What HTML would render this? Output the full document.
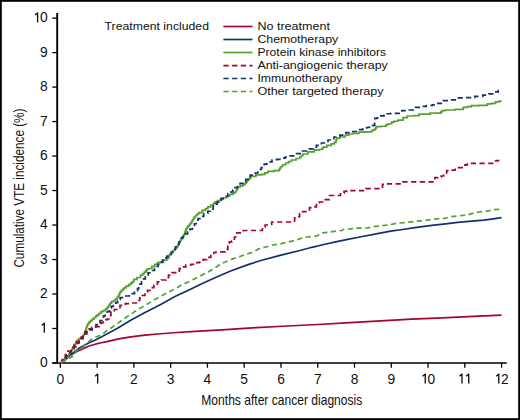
<!DOCTYPE html>
<html><head><meta charset="utf-8"><style>
html,body{margin:0;padding:0;background:#fff;}
.wrap{position:relative;width:520px;height:420px;overflow:hidden;background:#fff;}
svg{position:absolute;left:0;top:0;}
text{font-family:"Liberation Sans",sans-serif;fill:#111;}
.tk{font-size:13.8px;}
.lg{font-size:11.4px;}
.at{font-size:14.8px;}
</style></head><body><div class="wrap">
<svg width="520" height="420" viewBox="0 0 520 420">
<rect x="0.9" y="0.9" width="518.2" height="418.2" fill="#fff" stroke="#000" stroke-width="1.8"/>
<line x1="57.2" y1="13.1" x2="57.2" y2="363.8" stroke="#000" stroke-width="1.9"/>
<line x1="52.3" y1="363" x2="506.7" y2="363" stroke="#000" stroke-width="1.7"/>
<line x1="52.3" y1="363.00" x2="57.2" y2="363.00" stroke="#000" stroke-width="1.3"/>
<text x="43.75" y="367.30" text-anchor="middle" class="tk">0</text>
<line x1="52.3" y1="328.51" x2="57.2" y2="328.51" stroke="#000" stroke-width="1.3"/>
<path d="M41.70,325.51 L44.30,323.31 V332.81" fill="none" stroke="#111" stroke-width="1.35" stroke-linejoin="round"/>
<line x1="52.3" y1="294.02" x2="57.2" y2="294.02" stroke="#000" stroke-width="1.3"/>
<text x="43.75" y="298.32" text-anchor="middle" class="tk">2</text>
<line x1="52.3" y1="259.53" x2="57.2" y2="259.53" stroke="#000" stroke-width="1.3"/>
<text x="43.75" y="263.83" text-anchor="middle" class="tk">3</text>
<line x1="52.3" y1="225.04" x2="57.2" y2="225.04" stroke="#000" stroke-width="1.3"/>
<text x="43.75" y="229.34" text-anchor="middle" class="tk">4</text>
<line x1="52.3" y1="190.55" x2="57.2" y2="190.55" stroke="#000" stroke-width="1.3"/>
<text x="43.75" y="194.85" text-anchor="middle" class="tk">5</text>
<line x1="52.3" y1="156.06" x2="57.2" y2="156.06" stroke="#000" stroke-width="1.3"/>
<text x="43.75" y="160.36" text-anchor="middle" class="tk">6</text>
<line x1="52.3" y1="121.57" x2="57.2" y2="121.57" stroke="#000" stroke-width="1.3"/>
<text x="43.75" y="125.87" text-anchor="middle" class="tk">7</text>
<line x1="52.3" y1="87.08" x2="57.2" y2="87.08" stroke="#000" stroke-width="1.3"/>
<text x="43.75" y="91.38" text-anchor="middle" class="tk">8</text>
<line x1="52.3" y1="52.59" x2="57.2" y2="52.59" stroke="#000" stroke-width="1.3"/>
<text x="43.75" y="56.89" text-anchor="middle" class="tk">9</text>
<line x1="52.3" y1="18.10" x2="57.2" y2="18.10" stroke="#000" stroke-width="1.3"/>
<path d="M35.00,15.10 L37.60,12.90 V22.40" fill="none" stroke="#111" stroke-width="1.35" stroke-linejoin="round"/>
<text x="43.75" y="22.40" text-anchor="middle" class="tk">0</text>
<line x1="60.35" y1="363" x2="60.35" y2="367.7" stroke="#000" stroke-width="1.3"/>
<text x="60.35" y="383.60" text-anchor="middle" class="tk">0</text>
<line x1="97.12" y1="363" x2="97.12" y2="367.7" stroke="#000" stroke-width="1.3"/>
<path d="M95.07,376.30 L97.67,374.10 V383.60" fill="none" stroke="#111" stroke-width="1.35" stroke-linejoin="round"/>
<line x1="133.89" y1="363" x2="133.89" y2="367.7" stroke="#000" stroke-width="1.3"/>
<text x="133.89" y="383.60" text-anchor="middle" class="tk">2</text>
<line x1="170.66" y1="363" x2="170.66" y2="367.7" stroke="#000" stroke-width="1.3"/>
<text x="170.66" y="383.60" text-anchor="middle" class="tk">3</text>
<line x1="207.43" y1="363" x2="207.43" y2="367.7" stroke="#000" stroke-width="1.3"/>
<text x="207.43" y="383.60" text-anchor="middle" class="tk">4</text>
<line x1="244.20" y1="363" x2="244.20" y2="367.7" stroke="#000" stroke-width="1.3"/>
<text x="244.20" y="383.60" text-anchor="middle" class="tk">5</text>
<line x1="280.97" y1="363" x2="280.97" y2="367.7" stroke="#000" stroke-width="1.3"/>
<text x="280.97" y="383.60" text-anchor="middle" class="tk">6</text>
<line x1="317.74" y1="363" x2="317.74" y2="367.7" stroke="#000" stroke-width="1.3"/>
<text x="317.74" y="383.60" text-anchor="middle" class="tk">7</text>
<line x1="354.51" y1="363" x2="354.51" y2="367.7" stroke="#000" stroke-width="1.3"/>
<text x="354.51" y="383.60" text-anchor="middle" class="tk">8</text>
<line x1="391.28" y1="363" x2="391.28" y2="367.7" stroke="#000" stroke-width="1.3"/>
<text x="391.28" y="383.60" text-anchor="middle" class="tk">9</text>
<line x1="428.05" y1="363" x2="428.05" y2="367.7" stroke="#000" stroke-width="1.3"/>
<path d="M422.65,376.30 L425.25,374.10 V383.60" fill="none" stroke="#111" stroke-width="1.35" stroke-linejoin="round"/>
<text x="431.40" y="383.60" text-anchor="middle" class="tk">0</text>
<line x1="464.82" y1="363" x2="464.82" y2="367.7" stroke="#000" stroke-width="1.3"/>
<path d="M459.42,376.30 L462.02,374.10 V383.60" fill="none" stroke="#111" stroke-width="1.35" stroke-linejoin="round"/>
<path d="M466.12,376.30 L468.72,374.10 V383.60" fill="none" stroke="#111" stroke-width="1.35" stroke-linejoin="round"/>
<line x1="501.59" y1="363" x2="501.59" y2="367.7" stroke="#000" stroke-width="1.3"/>
<path d="M496.19,376.30 L498.79,374.10 V383.60" fill="none" stroke="#111" stroke-width="1.35" stroke-linejoin="round"/>
<text x="504.94" y="383.60" text-anchor="middle" class="tk">2</text>
<path d="M61.0,362.5 L65.0,359.0 L69.5,355.5 L74.0,353.0 L79.0,350.5 L84.0,348.2 L88.6,346.3 L95.0,344.3 L100.0,343.0 L106.9,341.7 L118.8,338.8 L130.7,336.8 L145.0,335.1 L157.7,334.0 L176.9,332.5 L195.0,331.3 L225.8,329.7 L256.5,327.6 L287.3,326.0 L318.0,324.5 L350.0,322.6 L380.8,320.9 L411.5,319.2 L442.3,317.8 L473.1,316.3 L501.5,315.1" fill="none" stroke="#a6042a" stroke-width="1.7"/>
<path d="M61.0,362.5 L66.0,358.5 L72.3,353.6 L79.0,348.3 L88.6,342.9 L95.0,340.3 L106.9,333.9 L118.8,327.4 L130.7,320.2 L145.0,312.5 L160.7,304.4 L175.0,296.6 L190.0,289.4 L200.7,284.2 L215.0,277.8 L230.0,271.3 L248.1,264.6 L260.0,260.8 L280.0,255.4 L300.0,250.5 L311.9,247.3 L323.8,244.5 L335.7,241.8 L347.6,239.4 L360.0,237.0 L378.8,233.3 L390.7,231.2 L402.6,229.5 L415.0,227.7 L433.8,225.2 L445.7,223.9 L457.6,222.4 L471.9,221.2 L483.8,220.1 L493.3,218.8 L501.5,217.7" fill="none" stroke="#15316d" stroke-width="1.7"/>
<path d="M61.0,362.5 H62.40 V360.55 H63.80 H65.20 V358.60 H66.60 H67.02 V357.20 H67.45 H67.88 V355.80 H68.30 H68.72 V354.40 H69.15 H69.58 V353.00 H70.00 H70.50 V351.33 H71.00 H71.50 V349.67 H72.00 H72.50 V348.00 H73.00 H73.48 V346.53 H73.97 H74.45 V345.07 H74.93 H75.42 V343.60 H75.90 H76.25 V342.00 H76.60 H76.95 V340.40 H77.30 H78.70 V338.60 H80.10 H81.00 V337.15 H81.90 H82.80 V335.70 H83.70 H84.03 V334.03 H84.37 H84.70 V332.37 H85.03 H85.37 V330.70 H85.70 H85.93 V329.03 H86.17 H86.40 V327.37 H86.63 H86.87 V325.70 H87.10 H87.70 V323.90 H88.30 H88.90 V322.10 H89.50 H90.42 V320.57 H91.33 H92.25 V319.03 H93.17 H94.08 V317.50 H95.00 H95.75 V316.20 H96.50 H97.25 V314.90 H98.00 H99.00 V313.30 H100.00 H101.00 V311.70 H102.00 H103.15 V310.60 H104.30 H105.45 V309.10 H106.60 H107.17 V307.55 H107.75 H108.33 V306.00 H108.90 H109.33 V304.55 H109.75 H110.17 V303.10 H110.60 H111.45 V301.70 H112.30 H113.45 V300.60 H114.60 H115.45 V299.10 H116.30 H117.15 V297.40 H118.00 H118.28 V296.15 H118.55 H118.82 V294.90 H119.10 H119.40 V293.55 H119.70 H120.00 V292.20 H120.30 H121.08 V290.67 H121.87 H122.65 V289.13 H123.43 H124.22 V287.60 H125.00 H126.20 V286.10 H127.40 H128.60 V284.60 H129.80 H130.68 V283.10 H131.55 H132.43 V281.60 H133.30 H133.90 V279.30 H134.50 H136.90 V277.50 H139.30 H140.50 V275.10 H141.70 H142.57 V273.60 H143.45 H144.32 V272.10 H145.20 H145.80 V270.60 H146.40 H147.00 V269.10 H147.60 H148.80 V268.50 H150.00 H151.80 V266.30 H153.60 H154.85 V264.45 H156.10 H157.35 V262.60 H158.60 H160.35 V261.90 H162.10 H163.55 V260.10 H165.00 H166.80 V258.40 H168.60 H168.77 V256.75 H168.95 H169.12 V255.10 H169.30 H170.00 V253.70 H170.70 H171.40 V252.30 H172.10 H173.00 V250.50 H173.90 H174.80 V248.70 H175.70 H176.25 V247.30 H176.80 H177.35 V245.90 H177.90 H178.25 V244.10 H178.60 H178.95 V242.30 H179.30 H180.00 V240.50 H180.70 H181.40 V238.70 H182.10 H182.57 V237.05 H183.05 H183.53 V235.40 H184.00 H184.30 V233.75 H184.60 H184.90 V232.10 H185.20 H185.50 V230.45 H185.80 H186.10 V228.80 H186.40 H187.00 V227.33 H187.60 H188.20 V225.85 H188.80 H189.40 V224.38 H190.00 H190.60 V222.90 H191.20 H191.65 V221.40 H192.10 H192.55 V219.90 H193.00 H193.45 V218.40 H193.90 H194.35 V216.90 H194.80 H195.58 V215.50 H196.37 H197.15 V214.10 H197.93 H198.72 V212.70 H199.50 H201.90 V210.40 H204.30 H205.48 V208.60 H206.65 H207.82 V206.80 H209.00 H210.80 V205.00 H212.60 H213.45 V203.45 H214.30 H215.15 V201.90 H216.00 H217.47 V200.70 H218.95 H220.43 V199.50 H221.90 H223.40 V197.75 H224.90 H226.40 V196.00 H227.90 H229.68 V194.50 H231.45 H233.22 V193.00 H235.00 H235.45 V191.50 H235.90 H236.35 V190.00 H236.80 H237.25 V188.50 H237.70 H238.15 V187.00 H238.60 H240.07 V185.80 H241.55 H243.03 V184.60 H244.50 H245.10 V183.12 H245.70 H246.30 V181.65 H246.90 H247.50 V180.17 H248.10 H248.70 V178.70 H249.30 H250.50 V176.30 H251.70 H255.85 V174.80 H260.00 H261.65 V174.30 H263.30 H264.80 V172.80 H266.30 H267.80 V171.30 H269.30 H274.05 V170.70 H278.80 H279.20 V169.30 H279.60 H280.00 V167.90 H280.40 H280.80 V166.50 H281.20 H282.67 V164.75 H284.15 H285.62 V163.00 H287.10 H288.60 V161.50 H290.10 H291.60 V160.00 H293.10 H296.05 V158.50 H299.00 H299.80 V157.00 H300.60 H301.40 V155.50 H302.20 H303.00 V154.00 H303.80 H307.85 V151.90 H311.90 H314.30 V150.10 H316.70 H319.05 V149.50 H321.40 H322.00 V148.30 H322.60 H323.20 V147.10 H323.80 H326.80 V145.40 H329.80 H331.27 V143.90 H332.75 H334.23 V142.40 H335.70 H335.90 V141.00 H336.10 H336.30 V139.60 H336.50 H336.70 V138.20 H336.90 H339.90 V137.00 H342.90 H345.25 V135.20 H347.60 H348.80 V134.00 H350.00 H352.50 V133.30 H355.00 H356.90 V133.30 H358.80 H359.00 V132.10 H359.20 H365.00 V131.80 H370.80 H371.65 V130.40 H372.50 H373.75 V129.60 H375.00 H375.43 V128.15 H375.85 H376.27 V126.70 H376.70 H381.25 V126.25 H385.80 H386.25 V124.60 H386.70 H388.35 V123.75 H390.00 H391.65 V122.10 H393.30 H394.15 V121.25 H395.00 H397.85 V120.10 H400.70 H403.10 V117.70 H405.50 H407.25 V116.00 H409.00 H413.80 V115.70 H418.60 H419.20 V114.20 H419.80 H424.55 V114.20 H429.30 H430.15 V113.00 H431.00 H435.70 V113.20 H440.40 H440.90 V111.95 H441.40 H441.90 V110.70 H442.40 H445.45 V110.00 H448.50 H455.20 V109.30 H461.90 H463.25 V107.30 H464.60 H467.30 V106.60 H470.00 H471.35 V105.70 H472.70 H479.40 V105.30 H486.10 H487.45 V103.90 H488.80 H491.50 V103.30 H494.20 H495.55 V101.90 H496.90 H499.25 V101.20 H501.60" fill="none" stroke="#55a030" stroke-width="1.7"/>
<path d="M61.0,362.5 H62.00 V360.50 H63.00 H64.00 V358.50 H65.00 H66.25 V355.75 H67.50 H68.75 V353.00 H70.00 H70.83 V351.00 H71.67 H72.50 V349.00 H73.33 H74.17 V347.00 H75.00 H75.83 V345.00 H76.67 H77.50 V343.00 H78.33 H79.17 V341.00 H80.00 H81.00 V338.67 H82.00 H83.00 V336.33 H84.00 H85.00 V334.00 H86.00 H86.88 V331.95 H87.75 H88.62 V329.90 H89.50 H92.25 V326.80 H95.00 H96.00 V324.70 H97.00 H98.00 V322.60 H99.00 H100.00 V320.50 H101.00 H101.83 V318.23 H102.67 H103.50 V315.97 H104.33 H105.17 V313.70 H106.00 H107.30 V311.70 H108.60 H109.45 V309.70 H110.30 H110.65 V308.00 H111.00 H111.35 V306.30 H111.70 H113.40 V305.70 H115.10 H115.70 V302.60 H116.30 H117.70 V301.10 H119.10 H119.47 V299.40 H119.85 H120.22 V297.70 H120.60 H123.50 V296.00 H126.40 H129.25 V293.70 H132.10 H134.50 V290.70 H136.90 H137.50 V288.53 H138.10 H138.70 V286.37 H139.30 H139.90 V284.20 H140.50 H141.53 V281.50 H142.55 H143.57 V278.80 H144.60 H145.30 V276.83 H146.00 H146.70 V274.87 H147.40 H148.10 V272.90 H148.80 H151.20 V270.50 H153.60 H154.47 V268.50 H155.35 H156.22 V266.50 H157.10 H158.18 V264.40 H159.25 H160.32 V262.30 H161.40 H162.48 V260.05 H163.55 H164.62 V257.80 H165.70 H166.88 V256.15 H168.05 H169.23 V254.50 H170.40 H171.38 V252.00 H172.35 H173.33 V249.50 H174.30 H175.38 V246.95 H176.45 H177.52 V244.40 H178.60 H179.07 V241.95 H179.55 H180.03 V239.50 H180.50 H181.38 V237.75 H182.25 H183.12 V236.00 H184.00 H185.20 V233.90 H186.40 H187.60 V231.80 H188.80 H190.00 V229.10 H191.20 H192.40 V226.40 H193.60 H194.47 V223.75 H195.35 H196.22 V221.10 H197.10 H198.00 V218.70 H198.90 H199.80 V216.30 H200.70 H203.70 V213.30 H206.70 H207.88 V211.25 H209.05 H210.23 V209.20 H211.40 H213.20 V206.00 H215.00 H215.75 V204.03 H216.50 H217.25 V202.07 H218.00 H218.75 V200.10 H219.50 H221.00 V198.30 H222.50 H224.00 V196.50 H225.50 H227.85 V193.60 H230.20 H231.10 V191.80 H232.00 H232.90 V190.00 H233.80 H235.00 V187.60 H236.20 H237.40 V185.20 H238.60 H240.07 V183.45 H241.55 H243.03 V181.70 H244.50 H245.70 V179.30 H246.90 H248.10 V176.90 H249.30 H250.20 V175.10 H251.10 H252.00 V173.30 H252.90 H255.15 V173.00 H257.40 H257.85 V171.25 H258.30 H258.75 V169.50 H259.20 H261.25 V167.70 H263.30 H263.60 V165.95 H263.90 H264.20 V164.20 H264.50 H266.90 V163.60 H269.30 H270.20 V161.80 H271.10 H272.00 V160.00 H272.90 H276.45 V159.40 H280.00 H281.80 V158.20 H283.60 H285.35 V157.00 H287.10 H290.10 V155.80 H293.10 H296.55 V153.70 H300.00 H302.40 V151.00 H304.80 H308.35 V148.90 H311.90 H313.40 V147.15 H314.90 H316.40 V145.40 H317.90 H321.45 V143.00 H325.00 H328.00 V140.00 H331.00 H333.95 V137.00 H336.90 H339.90 V135.20 H342.90 H345.85 V132.60 H348.80 H351.90 V131.50 H355.00 H356.90 V131.50 H358.80 H359.80 V129.60 H360.80 H362.90 V128.75 H365.00 H366.65 V127.50 H368.30 H369.35 V125.80 H370.40 H372.50 V125.40 H374.60 H374.65 V123.03 H374.70 H374.75 V120.67 H374.80 H374.85 V118.30 H374.90 H377.05 V117.90 H379.20 H380.85 V115.80 H382.50 H384.15 V115.40 H385.80 H387.05 V113.75 H388.30 H390.80 V113.30 H393.30 H396.40 V113.30 H399.50 H401.90 V110.60 H404.30 H409.05 V110.00 H413.80 H415.60 V107.40 H417.40 H420.35 V106.40 H423.30 H426.30 V105.50 H429.30 H432.25 V104.80 H435.20 H437.80 V103.30 H440.40 H443.10 V100.60 H445.80 H450.50 V99.90 H455.20 H458.55 V97.90 H461.90 H465.95 V97.60 H470.00 H474.70 V96.30 H479.40 H482.75 V95.20 H486.10 H488.80 V93.80 H491.50 H494.20 V91.80 H496.90 H498.25 V90.50 H499.60 H500.55 V90.00 H501.50" fill="none" stroke="#15316d" stroke-width="1.7" stroke-dasharray="5.2 3.5"/>
<path d="M61.0,362.5 H62.25 V359.50 H63.50 H64.12 V357.05 H64.75 H65.38 V354.60 H66.00 H67.80 V351.00 H69.60 H71.35 V347.40 H73.10 H74.20 V344.60 H75.30 H76.35 V342.10 H77.40 H78.85 V340.30 H80.30 H81.35 V337.40 H82.40 H83.15 V333.90 H83.90 H84.95 V331.70 H86.00 H86.70 V328.90 H87.40 H88.85 V328.90 H90.30 H91.70 V327.40 H93.10 H94.55 V326.70 H96.00 H97.90 V326.60 H99.80 H100.95 V322.60 H102.10 H103.30 V319.60 H104.50 H107.50 V319.00 H110.50 H110.65 V315.45 H110.80 H110.95 V311.90 H111.10 H114.35 V309.50 H117.60 H120.00 V305.40 H122.40 H125.35 V303.60 H128.30 H131.90 V303.00 H135.50 H137.25 V300.50 H139.00 H139.75 V297.90 H140.50 H141.97 V295.50 H143.45 H144.93 V293.10 H146.40 H147.60 V290.40 H148.80 H150.00 V287.70 H151.20 H153.85 V285.40 H156.50 H157.40 V281.80 H158.30 H161.30 V280.00 H164.30 H166.10 V277.60 H167.90 H168.53 V275.15 H169.15 H169.78 V272.70 H170.40 H174.25 V272.70 H178.10 H179.30 V268.60 H180.50 H182.25 V266.80 H184.00 H185.80 V265.00 H187.60 H191.20 V264.40 H194.80 H195.95 V262.60 H197.10 H199.50 V262.00 H201.90 H203.10 V259.60 H204.30 H206.65 V257.30 H209.00 H210.80 V254.30 H212.60 H213.80 V252.50 H215.00 H216.05 V251.90 H217.10 H220.40 V251.90 H223.70 H225.20 V249.50 H226.70 H227.85 V246.00 H229.00 H229.30 V241.80 H229.60 H231.70 V241.20 H233.80 H234.40 V237.00 H235.00 H235.90 V232.90 H236.80 H239.45 V232.90 H242.10 H243.30 V230.50 H244.50 H253.00 V230.50 H261.50 H262.40 V226.80 H263.30 H265.10 V225.00 H266.90 H268.70 V224.40 H270.50 H271.70 V222.00 H272.90 H283.60 V222.00 H294.30 H294.60 V217.90 H294.90 H296.95 V216.70 H299.00 H299.60 V213.70 H300.20 H301.40 V211.70 H302.60 H305.45 V211.50 H308.30 H309.50 V207.60 H310.70 H313.10 V206.80 H315.50 H316.40 V202.60 H317.30 H319.35 V202.00 H321.40 H322.60 V199.60 H323.80 H326.20 V199.60 H328.60 H329.50 V195.50 H330.40 H334.85 V195.50 H339.30 H340.50 V193.10 H341.70 H344.05 V191.30 H346.40 H346.70 V190.70 H347.00 H356.10 V190.70 H365.20 H365.80 V188.60 H366.40 H374.15 V188.60 H381.90 H382.50 V184.40 H383.10 H384.60 V183.80 H386.10 H394.00 V183.80 H401.90 H402.80 V181.90 H403.70 H418.85 V181.90 H434.00 H434.90 V177.70 H435.80 H437.90 V176.90 H440.00 H441.20 V176.00 H442.40 H443.60 V173.00 H444.80 H446.70 V170.70 H448.60 H450.95 V170.10 H453.30 H455.10 V167.70 H456.90 H460.45 V167.70 H464.00 H464.90 V164.80 H465.80 H467.30 V164.20 H468.80 H469.70 V163.30 H470.60 H481.60 V163.30 H492.60 H493.50 V161.00 H494.40 H496.50 V160.60 H498.60 H500.05 V160.60 H501.50" fill="none" stroke="#a6042a" stroke-width="1.7" stroke-dasharray="5.2 3.5"/>
<path d="M61.0,362.5 L66.6,359.5 L68.7,358.6 L73.7,355.7 L76.6,350.7 L79.4,348.9 L83.0,347.1 L86.6,343.6 L90.0,340.5 L95.0,337.5 L102.1,334.5 L106.9,330.4 L112.9,326.8 L118.8,322.6 L123.6,319.0 L130.7,314.3 L137.9,309.5 L145.0,305.5 L154.8,299.6 L163.1,294.9 L172.6,290.1 L181.7,285.0 L188.8,281.7 L194.8,278.7 L200.7,275.7 L206.7,272.7 L215.0,268.0 L220.7,263.8 L227.9,260.8 L233.8,258.5 L241.0,256.1 L245.7,254.3 L251.7,252.5 L258.8,248.9 L265.7,247.0 L272.9,245.0 L280.0,244.0 L287.1,242.3 L294.3,240.5 L301.4,238.3 L307.1,237.0 L315.5,236.2 L320.2,234.6 L322.6,232.9 L328.6,232.3 L335.7,231.1 L341.7,230.5 L344.0,229.3 L350.0,228.9 L357.1,228.1 L366.9,228.0 L372.9,226.8 L382.4,225.6 L389.5,224.8 L396.7,223.2 L405.0,222.6 L413.6,221.5 L421.9,220.7 L429.0,219.8 L436.2,218.9 L444.5,218.3 L450.5,216.8 L457.6,216.0 L467.1,215.0 L473.1,213.2 L479.0,212.0 L487.4,211.2 L493.3,209.6 L501.0,209.2" fill="none" stroke="#55a030" stroke-width="1.7" stroke-dasharray="5.2 3.5"/>
<text x="104.6" y="29.8" class="lg" textLength="104.4" lengthAdjust="spacingAndGlyphs">Treatment included</text>
<line x1="223.4" y1="26.5" x2="252.5" y2="26.5" stroke="#a6042a" stroke-width="1.7"/>
<text x="257.4" y="29.8" class="lg" textLength="72.6" lengthAdjust="spacingAndGlyphs">No treatment</text>
<line x1="223.4" y1="39.5" x2="252.5" y2="39.5" stroke="#15316d" stroke-width="1.7"/>
<text x="257.4" y="42.8" class="lg" textLength="80.8" lengthAdjust="spacingAndGlyphs">Chemotherapy</text>
<line x1="223.4" y1="52.5" x2="252.5" y2="52.5" stroke="#55a030" stroke-width="1.7"/>
<text x="257.4" y="55.8" class="lg" textLength="128.8" lengthAdjust="spacingAndGlyphs">Protein kinase inhibitors</text>
<line x1="223.4" y1="65.6" x2="252.5" y2="65.6" stroke="#a6042a" stroke-width="1.7" stroke-dasharray="5.3 3.4"/>
<text x="257.4" y="68.9" class="lg" textLength="130.4" lengthAdjust="spacingAndGlyphs">Anti-angiogenic therapy</text>
<line x1="223.4" y1="78.5" x2="252.5" y2="78.5" stroke="#15316d" stroke-width="1.7" stroke-dasharray="5.3 3.4"/>
<text x="257.4" y="81.8" class="lg" textLength="85.0" lengthAdjust="spacingAndGlyphs">Immunotherapy</text>
<line x1="223.4" y1="91.5" x2="252.5" y2="91.5" stroke="#55a030" stroke-width="1.7" stroke-dasharray="5.3 3.4"/>
<text x="257.4" y="94.8" class="lg" textLength="126.2" lengthAdjust="spacingAndGlyphs">Other targeted therapy</text>
<text transform="translate(24.3,267.6) rotate(-90)" class="at" textLength="159" lengthAdjust="spacingAndGlyphs">Cumulative VTE incidence (%)</text>
<text x="201.3" y="404.9" class="at" textLength="161" lengthAdjust="spacingAndGlyphs">Months after cancer diagnosis</text>
</svg></div></body></html>
